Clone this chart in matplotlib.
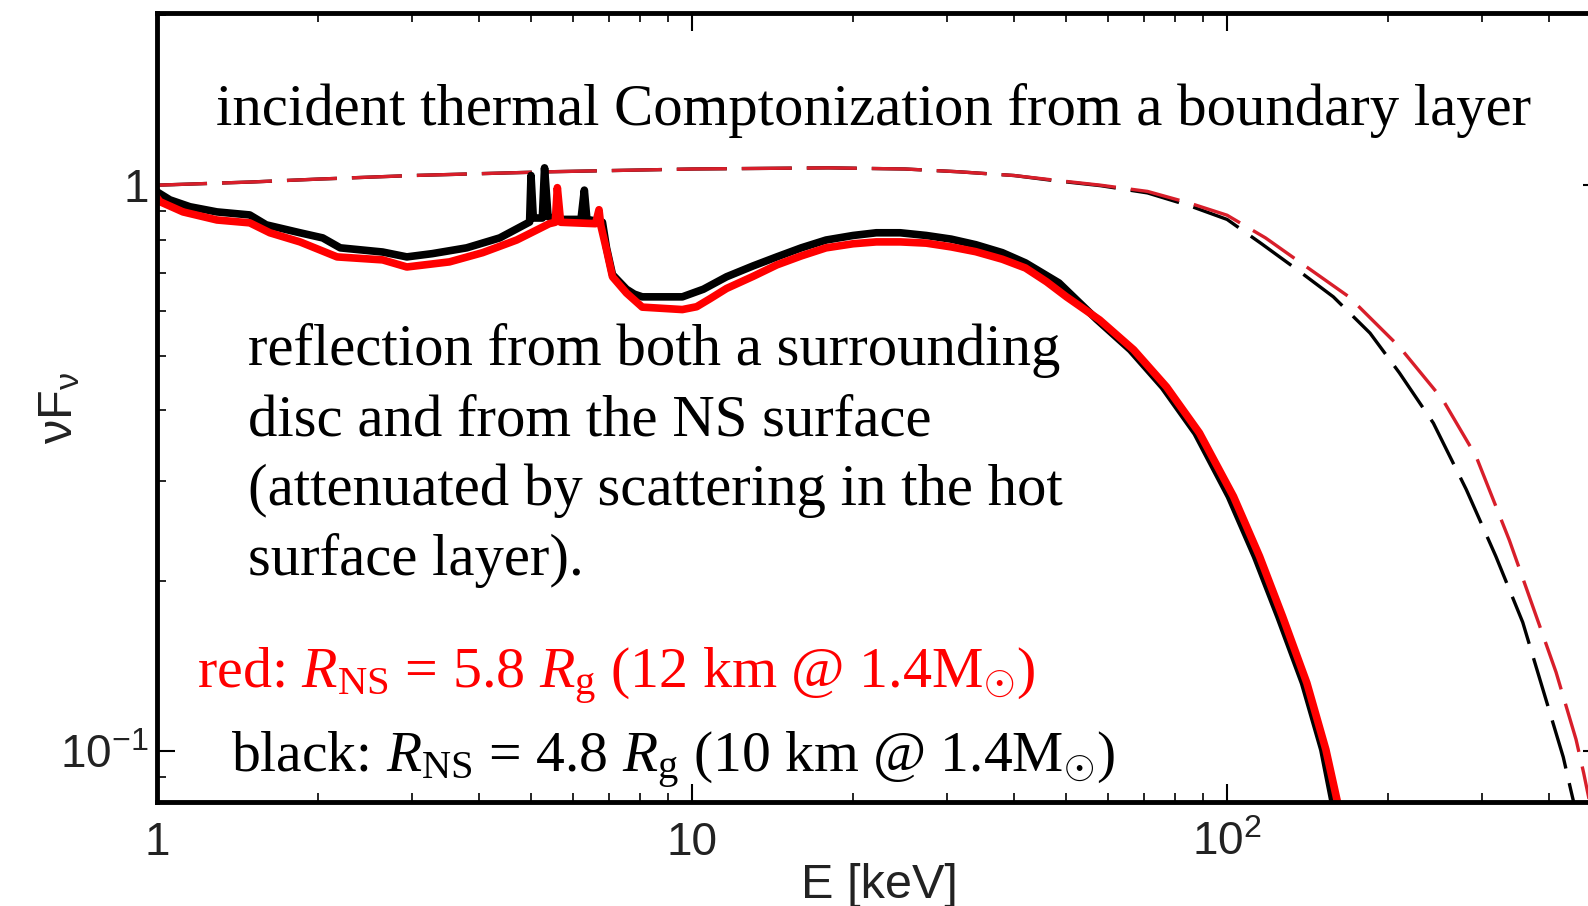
"""Reflection spectra from a boundary layer: incident vs reflected nuFnu."""

import matplotlib
matplotlib.use("Agg")
import matplotlib.pyplot as plt

plt.rcParams['mathtext.fontset'] = 'custom'
plt.rcParams['mathtext.rm'] = 'Liberation Serif'
plt.rcParams['mathtext.it'] = 'Liberation Serif:italic'

# incident spectra (dashed)
E_inc_black = [1, 1.5, 2, 3, 5.4, 10, 18, 25, 31.5, 40, 47, 58, 71, 85, 100, 116, 135,
               158, 185, 210, 243, 280, 318, 357, 390, 425, 439, 470]
F_inc_black = [1.0, 1.013, 1.025, 1.04, 1.056, 1.068, 1.073, 1.068, 1.056, 1.04, 1.02,
               0.998, 0.969, 0.92, 0.87, 0.788, 0.71, 0.635, 0.548, 0.466, 0.38, 0.29,
               0.221, 0.169, 0.128, 0.0977, 0.0855, 0.065]
E_inc_red = [1, 1.5, 2, 3, 5.4, 10, 18, 25, 31.5, 40, 47, 58, 71, 85, 100, 118, 140,
             169, 210, 253, 292, 337, 373, 412, 449, 464, 500]
F_inc_red = [1.0, 1.013, 1.025, 1.04, 1.056, 1.068, 1.073, 1.068, 1.056, 1.04, 1.022,
             1.0, 0.975, 0.93, 0.885, 0.807, 0.72, 0.635, 0.518, 0.418, 0.332, 0.236,
             0.18, 0.138, 0.105, 0.0916, 0.065]

# reflected spectra (solid)
E_black = [1.0, 1.057, 1.152, 1.294, 1.49, 1.60, 1.85, 2.04, 2.20, 2.64, 2.93, 3.27,
           3.79, 4.37, 4.97, 5.0, 5.05, 5.25, 5.30, 5.38, 5.6, 6.2, 6.29, 6.36, 6.8,
           6.92, 7.1, 7.54, 7.8, 8.07, 9.59, 10.5, 11.6, 13.0, 14.4, 16.0, 17.8, 20.0,
           22.1, 24.5, 27.4, 30.5, 33.9, 38.0, 42.0, 48.5, 57.0, 66.0, 76.0, 87.5, 101,
           113, 125, 139, 151, 158, 165]
F_black = [0.973, 0.942, 0.916, 0.897, 0.886, 0.851, 0.824, 0.807, 0.775, 0.762, 0.747,
           0.757, 0.775, 0.807, 0.861, 1.04, 0.875, 0.875, 1.073, 0.88, 0.87, 0.87,
           0.98, 0.87, 0.86, 0.775, 0.695, 0.655, 0.642, 0.635, 0.635, 0.655, 0.689,
           0.72, 0.747, 0.775, 0.80, 0.815, 0.824, 0.824, 0.815, 0.803, 0.785, 0.76,
           0.729, 0.672, 0.58, 0.512, 0.44, 0.365, 0.282, 0.221, 0.173, 0.132, 0.1007,
           0.081, 0.068]
E_red = [1.0, 1.013, 1.118, 1.294, 1.49, 1.625, 1.85, 2.17, 2.64, 2.93, 3.52, 4.06,
         4.70, 5.41, 5.55, 5.6, 5.68, 6.6, 6.7, 6.75, 6.92, 7.1, 7.54, 8.07, 9.59, 10.2,
         10.8, 11.6, 13.0, 14.4, 16.0, 17.8, 20.0, 22.1, 24.5, 27.4, 30.5, 33.9, 38.0,
         42.0, 46.0, 50.1, 57.8, 66.9, 77.1, 88.8, 102.8, 115, 127, 141, 153, 161, 168]
F_red = [0.95, 0.935, 0.897, 0.868, 0.858, 0.824, 0.794, 0.747, 0.738, 0.717, 0.732,
         0.76, 0.80, 0.855, 0.86, 0.99, 0.86, 0.855, 0.905, 0.85, 0.769, 0.689, 0.645,
         0.609, 0.603, 0.61, 0.63, 0.657, 0.69, 0.723, 0.75, 0.775, 0.788, 0.794, 0.794,
         0.79, 0.778, 0.763, 0.74, 0.714, 0.675, 0.635, 0.578, 0.512, 0.44, 0.365,
         0.282, 0.221, 0.173, 0.132, 0.1007, 0.081, 0.068]

x_ticks = [1, 10, 100]
x_ticklabels = ['1', '10', r'$\mathregular{10^2}$']
y_ticks = [0.1, 1]
y_ticklabels = [r'$\mathregular{10^{-1}}$', '1']

fig = plt.figure(figsize=(15.88, 9.06), dpi=100)
ax = fig.add_axes([0.0989, 0.1148, 0.9093, 0.8703])

ax.plot(E_inc_black, F_inc_black, color='black', lw=2.4, dashes=(15, 4.5))
ax.plot(E_inc_red, F_inc_red, color='#d81e2a', lw=2.4, dashes=(15, 4.5))
ax.plot(E_black, F_black, color='black', lw=5.5)
ax.plot(E_red, F_red, color='#ff0000', lw=5.5)

ax.set_xscale('log')
ax.set_yscale('log')
ax.set_xlim(1, 500)
ax.set_ylim(0.0814, 2.01)

ax.set_xticks(x_ticks)
ax.set_xticklabels(x_ticklabels)
ax.set_yticks(y_ticks)
ax.set_yticklabels(y_ticklabels)

for s in ax.spines.values():
    s.set_linewidth(3.5)
ax.tick_params(which='both', direction='in', top=True, right=True, colors='black',
               labelcolor='#222222', labelsize=33)
ax.tick_params(which='major', length=13, width=1.5)
ax.tick_params(which='minor', length=6.5, width=1.2)
ax.tick_params(axis='x', pad=14)
ax.tick_params(axis='y', pad=6)
for lab in ax.get_xticklabels() + ax.get_yticklabels():
    lab.set_fontfamily('Liberation Sans')

ax.set_xlabel('E [keV]', fontsize=35, family='Liberation Sans', color='#222222', labelpad=-2)
ax.set_ylabel(r'$\mathregular{\nu F_\nu}$', fontsize=35, family='Liberation Sans',
              color='#222222')
ax.yaxis.set_label_coords(-0.052, 0.5)

W, H = 1588, 906
serif = 'Liberation Serif'
fs = 42.3
fig.text(216 / W, 1 - 125 / H, 'incident thermal Comptonization from a boundary layer',
         fontsize=fs, family=serif, va='baseline')
para = ['reflection from both a surrounding',
        'disc and from the NS surface',
        '(attenuated by scattering in the hot',
        'surface layer).']
for i, line in enumerate(para):
    fig.text(248 / W, 1 - (365 + 70 * i) / H, line, fontsize=fs, family=serif, va='baseline')

fig.text(197 / W, 1 - 688 / H,
         r'red: $R_{\mathrm{NS}}$ = 5.8 $R_{\mathrm{g}}$ (12 km @ 1.4M$_{\odot}$)',
         fontsize=41.8, family=serif, color='#ff0000', va='baseline')
fig.text(231 / W, 1 - 772 / H,
         r'black: $R_{\mathrm{NS}}$ = 4.8 $R_{\mathrm{g}}$ (10 km @ 1.4M$_{\odot}$)',
         fontsize=41.5, family=serif, color='black', va='baseline')

fig.savefig('out.png', dpi=100)
plt.close(fig)
